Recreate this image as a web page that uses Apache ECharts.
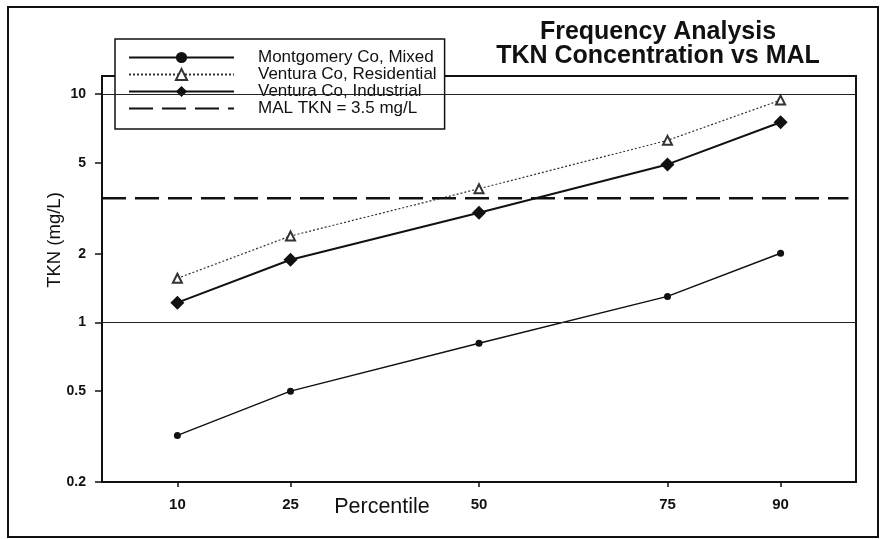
<!DOCTYPE html>
<html>
<head>
<meta charset="utf-8">
<script src="https://cdn.jsdelivr.net/npm/echarts@6/dist/echarts.min.js"></script>
<style>
  html, body { margin: 0; padding: 0; background: #fff; }
  #chart { width: 883px; height: 539px; }
</style>
</head>
<body>
<div id="chart"></div>
<script>
// percentiles on the x axis
const percentiles = [10, 25, 50, 75, 90];
// TKN values (mg/L)
const montgomeryMixed = [0.32, 0.50, 0.81, 1.30, 2.01];
const venturaResidential = [1.56, 2.39, 3.85, 6.27, 9.41];
const venturaIndustrial = [1.22, 1.88, 3.02, 4.92, 7.53];
// MAL reference level
const malLevel = 3.5;
const malRange = [0, 99];
// axis ticks
const xTicks = [10, 25, 50, 75, 90];
const yTicks = [0.2, 0.5, 1, 2, 5, 10];
const gridLevels = [1, 10];

const font = 'Liberation Sans, Arial, sans-serif';

function pairs(xs, ys) {
  return xs.map((x, i) => [x, ys[i]]);
}

const chart = echarts.init(document.getElementById('chart'));

chart.setOption({
  animation: false,
  backgroundColor: '#fff',
  textStyle: { fontFamily: font, color: '#111' },
  graphic: [
    {
      type: 'rect',
      shape: { x: 8, y: 7, width: 870, height: 530 },
      style: { fill: 'none', stroke: '#111', lineWidth: 2 },
      silent: true
    },
    {
      type: 'text',
      x: 658, y: 32,
      style: {
        text: 'Frequency Analysis',
        align: 'center', verticalAlign: 'middle',
        font: 'bold 25px ' + font, fill: '#111'
      }
    },
    {
      type: 'text',
      x: 658, y: 56,
      style: {
        text: 'TKN Concentration vs MAL',
        align: 'center', verticalAlign: 'middle',
        font: 'bold 25px ' + font, fill: '#111'
      }
    }
  ],
  grid: {
    left: 102, top: 76, right: 27, bottom: 57,
    outerBoundsMode: 'none',
    show: true, borderColor: '#111', borderWidth: 2
  },
  legend: {
    orient: 'vertical',
    left: 115, top: 39,
    padding: [10, 8, 12, 13],
    itemWidth: 105, itemHeight: 14, itemGap: 0,
    backgroundColor: '#fff',
    borderColor: '#111', borderWidth: 1.5,
    textStyle: { fontSize: 17, color: '#111', lineHeight: 17, padding: [0, 0, 0, 19] },
    data: [
      'Montgomery Co, Mixed',
      'Ventura Co, Residential',
      'Ventura Co, Industrial',
      { name: 'MAL TKN = 3.5 mg/L', itemStyle: { opacity: 0 } }
    ]
  },
  xAxis: {
    type: 'value',
    min: 0, max: 100,
    name: 'Percentile',
    nameLocation: 'middle',
    nameGap: 14,
    nameMoveOverlap: false,
    nameTextStyle: { fontSize: 21.5, color: '#111', padding: [0, 194, 0, 0] },
    axisLine: { show: true, lineStyle: { color: '#111', width: 2 } },
    axisTick: { show: true, length: 5, customValues: xTicks, lineStyle: { color: '#111', width: 1.5 } },
    axisLabel: { customValues: xTicks, fontSize: 15, fontWeight: 'bold', color: '#111', margin: 15 },
    splitLine: { show: false }
  },
  yAxis: {
    type: 'log',
    logBase: 10,
    min: 0.2, max: 12,
    name: 'TKN (mg/L)',
    nameLocation: 'middle',
    nameGap: 38,
    nameMoveOverlap: false,
    nameTextStyle: { fontSize: 18.5, color: '#111', padding: [0, 0, 0, 78] },
    axisLine: { show: true, lineStyle: { color: '#111', width: 2 } },
    axisTick: { show: true, length: 7, customValues: yTicks, lineStyle: { color: '#111', width: 1.5 } },
    axisLabel: { customValues: yTicks, fontSize: 14, fontWeight: 'bold', color: '#111', margin: 16 },
    splitLine: { show: false }
  },
  series: [
    {
      name: 'Montgomery Co, Mixed',
      type: 'line',
      data: pairs(percentiles, montgomeryMixed),
      symbol: 'circle', symbolSize: 7,
      lineStyle: { color: '#111', width: 1.5 },
      itemStyle: { color: '#111' },
      markLine: {
        silent: true,
        symbol: 'none',
        label: { show: false },
        lineStyle: { color: '#222', width: 1, type: 'solid' },
        data: gridLevels.map(v => ({ yAxis: v }))
      }
    },
    {
      name: 'Ventura Co, Residential',
      type: 'line',
      data: pairs(percentiles, venturaResidential),
      symbol: 'emptyTriangle', symbolSize: 9,
      lineStyle: { color: '#333', width: 1.2, type: [2, 2] },
      itemStyle: { color: '#333', borderWidth: 1.2 }
    },
    {
      name: 'Ventura Co, Industrial',
      type: 'line',
      data: pairs(percentiles, venturaIndustrial),
      symbol: 'diamond', symbolSize: 14,
      lineStyle: { color: '#111', width: 2 },
      itemStyle: { color: '#111' }
    },
    {
      name: 'MAL TKN = 3.5 mg/L',
      type: 'line',
      data: malRange.map(x => [x, malLevel]),
      symbol: 'none',
      lineStyle: { color: '#111', width: 2.5, type: [24, 9] },
      itemStyle: { color: '#111' }
    }
  ]
});
</script>
</body>
</html>
